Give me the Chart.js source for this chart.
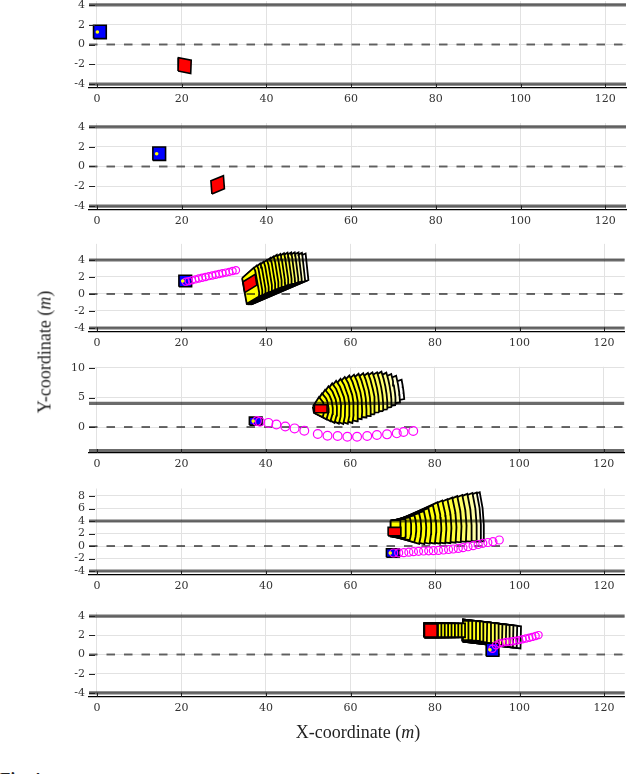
<!DOCTYPE html>
<html>
<head>
<meta charset="utf-8">
<script src="https://cdn.jsdelivr.net/npm/chart.js@4.4.1/dist/chart.umd.min.js"></script>
<style>
  html, body { margin: 0; padding: 0; background: #fff; }
  body { width: 630px; height: 774px; position: relative; overflow: hidden; }
  .panel { position: absolute; left: 0; }
  .lbl { position: absolute; font-family: 'Liberation Serif', 'DejaVu Serif', serif; font-size: 18px; color: #222; white-space: nowrap; }
  #xlab { left: 0; width: 716px; top: 722px; text-align: center; }
  #ylab { left: 45px; top: 352px; transform: translate(-50%, -50%) rotate(-90deg); }
  #fig { left: 0; top: 770px; font-weight: bold; font-size: 17px; line-height: 17px; }
</style>
</head>
<body>
<div id="panels"></div>
<div class="lbl" id="xlab">X-coordinate (<i>m</i>)</div>
<div class="lbl" id="ylab">Y-coordinate (<i>m</i>)</div>
<div class="lbl" id="fig">Fig. 4</div>

<script>
/* ---------- data ---------- */

// axis limits and ticks
const X_MIN = -1.875, X_MAX = 124.9;
const X_TICKS = [0, 20, 40, 60, 80, 100, 120];
const Y_MIN = [-4.4, -4.35, -4.4, -4.4, -4.64, -4.4];
const Y_MAX = [4.4, 4.4, 5.9, 10.2, 9.2, 4.4];
const Y_TICKS = [
  [-4, -2, 0, 2, 4],
  [-4, -2, 0, 2, 4],
  [-4, -2, 0, 2, 4],
  [0, 5, 10],
  [-4, -2, 0, 2, 4, 6, 8],
  [-4, -2, 0, 2, 4],
];

// road
const LANE_EDGES = [4, -4];
const LANE_CENTER = [0];

// vehicles (size in m)
const VEH_L = 3.0, VEH_W = 1.35, REF_BACK = 0.6;
const egoX = [0.7, 14.7, 20.9, 37.6, 70.0, 93.6];
const egoY = [1.27, 1.29, 1.53, 1.0, -1.12, 0.5];
const obsX = [20.7, 28.5, 36.2, 53.0, 70.4, 79.0];
const obsY = [-2.13, -1.85, 1.24, 3.1, 2.3, 2.5];
const obsHeading = [-5, 10, 17, 0, 0, 0];

// planned ego path (magenta circles), panels 3-6
const path3X = [21.0, 21.7, 22.5, 23.3, 24.1, 24.9, 25.7, 26.5, 27.3, 28.1, 28.9, 29.7, 30.5, 31.3, 32.1, 32.9];
const path3Y = [1.45, 1.52, 1.62, 1.72, 1.82, 1.92, 2.0, 2.1, 2.18, 2.27, 2.36, 2.44, 2.52, 2.6, 2.7, 2.8];
const path4X = [37.9, 38.6, 40.6, 42.5, 44.6, 46.8, 49.1, 52.3, 54.6, 57.0, 59.3, 61.6, 64.0, 66.3, 68.7, 71.0, 72.6, 74.9];
const path4Y = [1.0, 0.9, 0.7, 0.42, 0.1, -0.23, -0.62, -1.19, -1.47, -1.53, -1.64, -1.64, -1.53, -1.36, -1.24, -1.07, -0.85, -0.68];
const path5X = [70.2, 71.4, 72.6, 73.8, 74.9, 76.1, 77.3, 78.5, 79.6, 80.8, 82.0, 83.2, 84.3, 85.5, 86.6, 87.8, 89.0, 90.2, 91.3, 92.5, 93.7, 95.2];
const path5Y = [-1.12, -1.1, -1.07, -0.99, -0.91, -0.85, -0.8, -0.77, -0.75, -0.7, -0.64, -0.56, -0.48, -0.38, -0.27, -0.12, 0.05, 0.24, 0.43, 0.56, 0.69, 0.96];
const path6X = [93.6, 94.4, 95.2, 96.0, 96.8, 97.6, 98.4, 99.1, 99.9, 100.7, 101.5, 102.3, 103.0, 103.8, 104.5];
const path6Y = [0.6, 0.95, 1.15, 1.24, 1.3, 1.33, 1.38, 1.44, 1.5, 1.58, 1.66, 1.75, 1.83, 1.92, 2.02];

// predicted occupancy of the obstacle: [rearX, rearY, length, width, minHeading, maxHeading]
const tube3 = [
  [35.0, 0.4, 3.0, 3.2, 16, 24], [35.1, 0.4, 3.7, 3.2, 16, 24], [35.2, 0.4, 4.4, 3.2, 15.5, 23],
  [35.3, 0.4, 5.1, 3.2, 15.5, 22], [35.4, 0.4, 5.8, 3.2, 15, 21.5], [35.5, 0.4, 6.5, 3.2, 15, 21],
  [35.6, 0.4, 7.2, 3.2, 14.5, 20.5], [35.7, 0.4, 7.9, 3.2, 14.5, 20], [35.8, 0.4, 8.6, 3.2, 14, 19],
  [35.9, 0.4, 9.3, 3.2, 14, 18], [36.0, 0.4, 10.0, 3.2, 13.5, 17], [36.1, 0.4, 10.7, 3.2, 13, 16],
  [36.2, 0.4, 11.4, 3.2, 13, 15], [36.3, 0.4, 12.1, 3.2, 12.5, 14], [36.4, 0.4, 12.8, 3.2, 12, 13],
  [36.5, 0.4, 13.5, 3.2, 12, 12],
];
const tube4 = [
  [51.60, 3.0, 2.2, 1.3, -19, 48], [51.76, 3.0, 3.04, 1.3, -21, 48], [51.92, 3.0, 3.88, 1.3, -21.5, 48],
  [52.08, 3.0, 4.72, 1.3, -21, 47], [52.24, 3.0, 5.56, 1.3, -19, 45], [52.40, 3.0, 6.40, 1.3, -17, 43],
  [52.56, 3.0, 7.24, 1.3, -14.5, 40], [52.72, 3.0, 8.08, 1.3, -12, 38], [52.88, 3.0, 8.92, 1.3, -9, 35.5],
  [53.04, 3.0, 9.76, 1.3, -6, 33], [53.20, 3.0, 10.6, 1.3, -4, 31], [53.36, 3.0, 11.44, 1.3, -2.5, 29],
  [53.52, 3.0, 12.28, 1.3, -1, 27], [53.68, 3.0, 13.12, 1.3, 0.5, 25.5], [53.84, 3.0, 13.96, 1.3, 1.5, 24],
  [54.00, 3.0, 14.8, 1.3, 2.5, 23], [54.16, 3.0, 15.64, 1.3, 3.7, 21], [54.32, 3.0, 16.48, 1.3, 4.8, 19],
  [54.48, 3.0, 17.32, 1.3, 6, 17], [54.64, 3.0, 18.2, 1.3, 7.5, 14],
];
const tube5 = [
  [69.5, 2.8, 2.3, 2.6, 0, 2], [69.75, 2.8, 3.25, 2.6, -4.3, 4.3], [70.0, 2.8, 4.2, 2.6, -7.8, 6.7],
  [70.25, 2.8, 5.15, 2.6, -10.3, 9.2], [70.5, 2.8, 6.1, 2.6, -11.1, 11.1], [70.75, 2.8, 7.05, 2.6, -10, 12.4],
  [71.0, 2.8, 8.0, 2.6, -8.3, 14.3], [71.25, 2.8, 8.95, 2.6, -7.2, 16.2], [71.5, 2.8, 9.9, 2.6, -6.5, 17.3],
  [71.75, 2.8, 10.85, 2.6, -5.8, 17.4], [72.0, 2.8, 11.8, 2.6, -5.1, 17], [72.25, 2.8, 12.75, 2.6, -4.4, 16.9],
  [72.5, 2.8, 13.7, 2.6, -3.8, 16.7], [72.75, 2.8, 14.65, 2.6, -3.3, 16.3], [73.0, 2.8, 15.6, 2.6, -2.9, 16],
  [73.25, 2.8, 16.55, 2.6, -2.7, 15.5], [73.5, 2.8, 17.3, 2.6, -2.6, 15.1], [73.75, 2.8, 17.75, 2.6, -2.5, 14.9],
];
const tube6 = [
  [77.5, 2.52, 3.2, 1.45, 0, 0], [77.5, 2.52, 4.0, 1.45, 0, 0], [77.5, 2.52, 4.8, 1.45, 0, 0],
  [77.5, 2.52, 5.6, 1.45, 0, 0], [77.5, 2.52, 6.4, 1.45, 0, 0], [77.5, 2.52, 7.2, 1.45, 0, 0],
  [77.5, 2.52, 8.0, 1.45, 0, 0], [77.5, 2.52, 8.8, 1.45, 0, 0], [77.5, 2.52, 9.6, 1.45, 0, 0],
  [86.6, 2.5, 1.3, 2.0, 0, 0], [86.6, 2.5, 2.2, 2.0, 0, 0], [86.6, 2.5, 3.1, 2.05, -0.5, -0.5],
  [86.6, 2.5, 4.0, 2.05, -1, -1], [86.6, 2.5, 4.8, 2.1, -1.5, -1.5], [86.6, 2.5, 5.7, 2.1, -2, -2],
  [86.6, 2.5, 6.6, 2.15, -2.2, -2.2], [86.6, 2.5, 7.5, 2.15, -2.4, -2.4], [86.6, 2.5, 8.4, 2.2, -2.6, -2.6],
  [86.6, 2.5, 9.3, 2.2, -2.8, -2.8], [86.6, 2.5, 10.2, 2.25, -2.9, -2.9], [86.6, 2.5, 11.0, 2.25, -3, -3],
  [86.6, 2.5, 11.9, 2.3, -3, -3], [86.6, 2.5, 12.8, 2.3, -3, -3], [86.6, 2.5, 13.7, 2.3, -3, -3],
];

const paths = [null, null, [path3X, path3Y], [path4X, path4Y], [path5X, path5Y], [path6X, path6Y]];
const tubes = [null, null, tube3, tube4, tube5, tube6];

/* ---------- page layout (pixels) ---------- */
const AREA_TOP = [1, 123, 243.85, 366.8, 488.5, 612.2];
const AREA_BOTTOM = [88, 209.5, 331.4, 453, 575, 696.8];
const Y_AXIS_W = 89;
const PATH_R = [0, 0, 3.6, 4.4, 4, 3.6];

/* ---------- geometry helpers ---------- */
function rect(rx, ry, L, W, deg) {
  const a = deg * Math.PI / 180, c = Math.cos(a), s = Math.sin(a), h = W / 2;
  return [
    [rx + h * s, ry - h * c],
    [rx + L * c + h * s, ry + L * s - h * c],
    [rx + L * c - h * s, ry + L * s + h * c],
    [rx - h * s, ry + h * c],
  ];
}

function vehicle(cx, cy, deg) {
  const a = deg * Math.PI / 180;
  return rect(cx - VEH_L / 2 * Math.cos(a), cy - VEH_L / 2 * Math.sin(a), VEH_L, VEH_W, deg);
}

/* convex hull (monotone chain) */
function hull(pts) {
  const p = pts.slice().sort((a, b) => a[0] - b[0] || a[1] - b[1]);
  const cross = (o, a, b) => (a[0] - o[0]) * (b[1] - o[1]) - (a[1] - o[1]) * (b[0] - o[0]);
  const lo = [], up = [];
  for (const q of p) {
    while (lo.length >= 2 && cross(lo[lo.length - 2], lo[lo.length - 1], q) <= 0) lo.pop();
    lo.push(q);
  }
  for (let i = p.length - 1; i >= 0; i--) {
    const q = p[i];
    while (up.length >= 2 && cross(up[up.length - 2], up[up.length - 1], q) <= 0) up.pop();
    up.push(q);
  }
  lo.pop(); up.pop();
  return lo.concat(up);
}

/* swept shape: vehicle box rotated between two headings */
function fan(rx, ry, L, W, d0, d1) {
  const dm = (d0 + d1) / 2;
  return hull([...rect(rx, ry, L, W, d0), ...rect(rx, ry, L, W, dm), ...rect(rx, ry, L, W, d1)]);
}

/* yellow -> white as prediction goes further */
function tubeColor(t) {
  const f = Math.pow(t, 3.5);
  return `rgb(255,255,${Math.round(255 * f)})`;
}

/* ---------- datasets ---------- */
function polygon(pts, fill, order, bw) {
  const data = pts.map(p => ({ x: p[0], y: p[1] }));
  data.push(data[0]);
  return {
    data, order,
    borderColor: '#000', borderWidth: bw, borderJoinStyle: 'miter',
    backgroundColor: fill, fill: 'shape',
    pointRadius: 0, tension: 0,
  };
}

function laneLine(y, dashed) {
  return {
    data: [{ x: X_MIN, y }, { x: X_MAX, y }],
    borderColor: 'rgba(0,0,0,0.58)',
    borderWidth: dashed ? 2 : 3.2,
    borderDash: dashed ? [8.5, 9] : [],
    pointRadius: 0, fill: false, order: 4,
  };
}

function panelDatasets(i) {
  const ds = [];

  /* ego reference point */
  ds.push({
    data: [{ x: egoX[i] - REF_BACK, y: egoY[i] }],
    showLine: false, pointRadius: 1.8, pointBorderWidth: 0,
    pointBackgroundColor: '#ffff00', order: 0,
  });

  /* planned path */
  if (paths[i]) {
    const [px, py] = paths[i];
    ds.push({
      data: px.map((x, j) => ({ x, y: py[j] })),
      showLine: false, pointRadius: PATH_R[i], pointBorderWidth: 1.2,
      pointBorderColor: '#ff00ff', pointBackgroundColor: 'rgba(0,0,0,0)', order: 1,
    });
  }

  ds.push(polygon(vehicle(egoX[i], egoY[i], 0), '#0000ff', 2, 1.6));
  ds.push(polygon(vehicle(obsX[i], obsY[i], obsHeading[i]), '#ff0000', 3, 1.6));

  LANE_EDGES.forEach(y => ds.push(laneLine(y, false)));
  LANE_CENTER.forEach(y => ds.push(laneLine(y, true)));

  /* far shapes drawn first, near ones on top */
  if (tubes[i]) {
    const n = tubes[i].length;
    tubes[i].forEach((row, k) => {
      ds.push(polygon(fan(...row), tubeColor(k / (n - 1)), 10 + k, 1.8));
    });
  }
  return ds;
}

/* inward tick marks, as in the original axes */
const inwardTicks = {
  id: 'inwardTicks',
  afterDatasetsDraw(chart) {
    const { ctx, chartArea: a, scales: { x, y } } = chart;
    ctx.save();
    ctx.strokeStyle = '#222';
    ctx.lineWidth = 1;
    ctx.beginPath();
    x.ticks.forEach(t => {
      const px = Math.round(x.getPixelForValue(t.value)) + 0.5;
      ctx.moveTo(px, a.bottom); ctx.lineTo(px, a.bottom - 4);
    });
    y.ticks.forEach(t => {
      const py = Math.round(y.getPixelForValue(t.value)) + 0.5;
      ctx.moveTo(a.left, py); ctx.lineTo(a.left + 6, py);
    });
    ctx.stroke();
    ctx.restore();
  },
};

/* ---------- build the six panels ---------- */
const holder = document.getElementById('panels');
const tickFont = { family: "'DejaVu Serif', serif", size: 11 };

for (let i = 0; i < 6; i++) {
  const canvasTop = Math.floor(AREA_TOP[i]) - 10;
  const padTop = AREA_TOP[i] - canvasTop;
  const height = Math.ceil(AREA_BOTTOM[i]) - canvasTop + 24;
  const xAxisH = height - (AREA_BOTTOM[i] - canvasTop);

  const wrap = document.createElement('div');
  wrap.className = 'panel';
  wrap.style.top = canvasTop + 'px';
  const cv = document.createElement('canvas');
  cv.width = 630; cv.height = height;
  cv.style.width = '630px'; cv.style.height = height + 'px';
  wrap.appendChild(cv);
  holder.appendChild(wrap);

  new Chart(cv, {
    type: 'line',
    data: { datasets: panelDatasets(i) },
    options: {
      responsive: false,
      animation: false,
      events: [],
      layout: { padding: { top: padTop, left: 0, right: 0, bottom: 0 } },
      plugins: { legend: { display: false }, tooltip: { enabled: false } },
      scales: {
        x: {
          type: 'linear', min: X_MIN, max: X_MAX,
          afterBuildTicks: s => { s.ticks = X_TICKS.map(v => ({ value: v })); },
          afterFit: s => { s.height = xAxisH; s.paddingLeft = 0; s.paddingRight = 0; },
          grid: { color: '#e2e2e2', lineWidth: 1, drawTicks: false },
          border: { display: true, color: '#000', width: 1.2 },
          ticks: { font: tickFont, color: '#333', padding: 5, maxRotation: 0, autoSkip: false },
        },
        y: {
          type: 'linear', min: Y_MIN[i], max: Y_MAX[i],
          afterBuildTicks: s => { s.ticks = Y_TICKS[i].map(v => ({ value: v })); },
          afterFit: s => { s.width = Y_AXIS_W; s.paddingTop = 0; s.paddingBottom = 0; },
          grid: { color: '#e2e2e2', lineWidth: 1, drawTicks: false },
          border: { display: false },
          ticks: { font: tickFont, color: '#333', padding: 4, autoSkip: false },
        },
      },
    },
    plugins: [inwardTicks],
  });
}
</script>
</body>
</html>
